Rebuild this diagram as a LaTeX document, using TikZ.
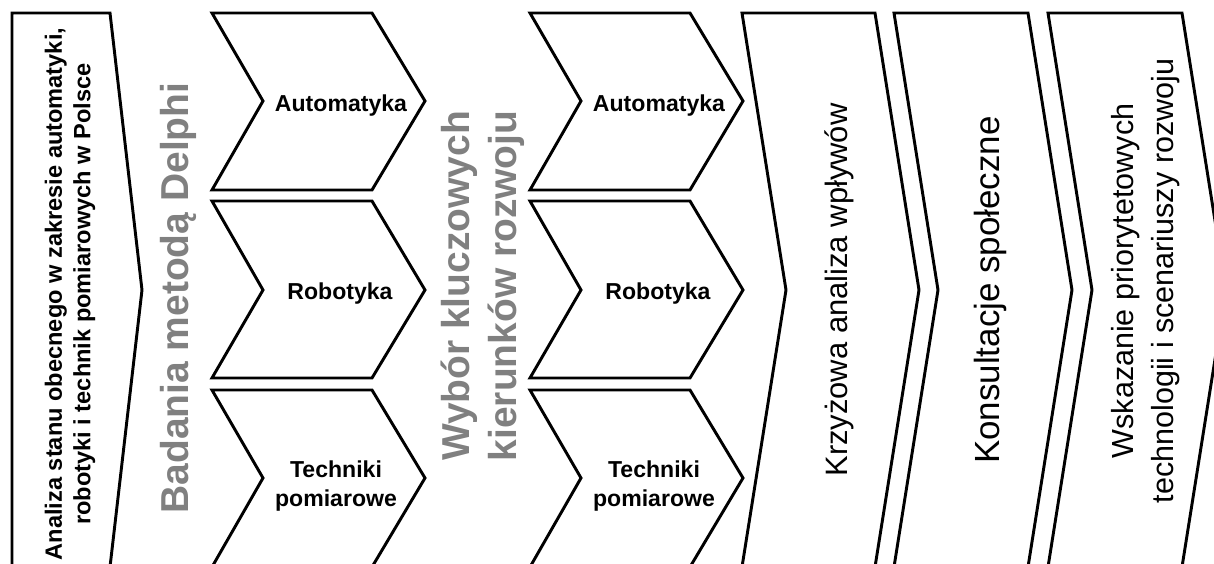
\documentclass[tikz,border=0pt]{standalone}
\usepackage{fontspec}
\setmainfont{Liberation Sans}
\usepackage{tikz}
\usetikzlibrary{positioning}
\definecolor{stagegray}{RGB}{128,128,128}

\tikzset{
  stage/.style={draw, line width=2.2pt, line join=miter},
  sublabel/.style={font=\fontsize{17.3}{21.5}\selectfont\bfseries, align=center},
  mainlabel/.style={rotate=90, text=stagegray, font=\fontsize{29.2}{35}\selectfont\bfseries, align=center},
  steplabel/.style={rotate=90, align=center}
}

\begin{document}
\begin{tikzpicture}[x={(0.75pt,0)}, y={(0,-0.75pt)}]
\useasboundingbox (0,0) rectangle (1214,564);
\clip (0,0) rectangle (1214,564);
% analiza stanu
\draw[stage] (12,13) -- (110,13) -- (142,290) -- (110,567) -- (12,567) -- cycle;
\node (analiza) [steplabel, font=\fontsize{17.7}{21.5}\selectfont\bfseries] at (70,294) {Analiza stanu obecnego w zakresie automatyki,\\robotyki i technik pomiarowych w Polsce};
% badania delphi
\node (delphi) [mainlabel] at (178,298) {Badania metodą Delphi};
\draw[stage] (212,13) -- (372,13) -- (425,101) -- (372,190) -- (212,190) -- (263,101) -- cycle;
\draw[stage] (212,201) -- (372,201) -- (425,290) -- (372,378) -- (212,378) -- (263,290) -- cycle;
\draw[stage] (212,390) -- (372,390) -- (425,478) -- (372,567) -- (212,567) -- (263,478) -- cycle;
\node (aut1) [sublabel] at (341,106) {Automatyka};
\node (rob1) [sublabel] at (340,294) {Robotyka};
\node (tech1) [sublabel] at (336,486) {Techniki\\pomiarowe};
% wybor kierunkow
\node (wybor) [mainlabel] at (483,286) {Wybór kluczowych\\kierunków rozwoju};
\draw[stage] (530,13) -- (690,13) -- (743,101) -- (690,190) -- (530,190) -- (581,101) -- cycle;
\draw[stage] (530,201) -- (690,201) -- (743,290) -- (690,378) -- (530,378) -- (581,290) -- cycle;
\draw[stage] (530,390) -- (690,390) -- (743,478) -- (690,567) -- (530,567) -- (581,478) -- cycle;
\node (aut2) [sublabel] at (659,106) {Automatyka};
\node (rob2) [sublabel] at (658,294) {Robotyka};
\node (tech2) [sublabel] at (654,486) {Techniki\\pomiarowe};
% etapy koncowe
\draw[stage] (742,13) -- (875,13) -- (919,290) -- (875,567) -- (742,567) -- (786,290) -- cycle;
\draw[stage] (894,13) -- (1028,13) -- (1072,290) -- (1028,567) -- (894,567) -- (938,290) -- cycle;
\draw[stage] (1048,13) -- (1182,13) -- (1226,290) -- (1182,567) -- (1048,567) -- (1092,290) -- cycle;
\node (krzyz) [steplabel, font=\fontsize{23.2}{28}\selectfont] at (839,290) {Krzyżowa analiza wpływów};
\node (konsult) [steplabel, font=\fontsize{26.2}{31}\selectfont] at (990,290) {Konsultacje społeczne};
\node (wskaz) [steplabel, font=\fontsize{22.9}{30}\selectfont] at (1146,281) {Wskazanie priorytetowych\\technologii i scenariuszy rozwoju};
\end{tikzpicture}
\end{document}
